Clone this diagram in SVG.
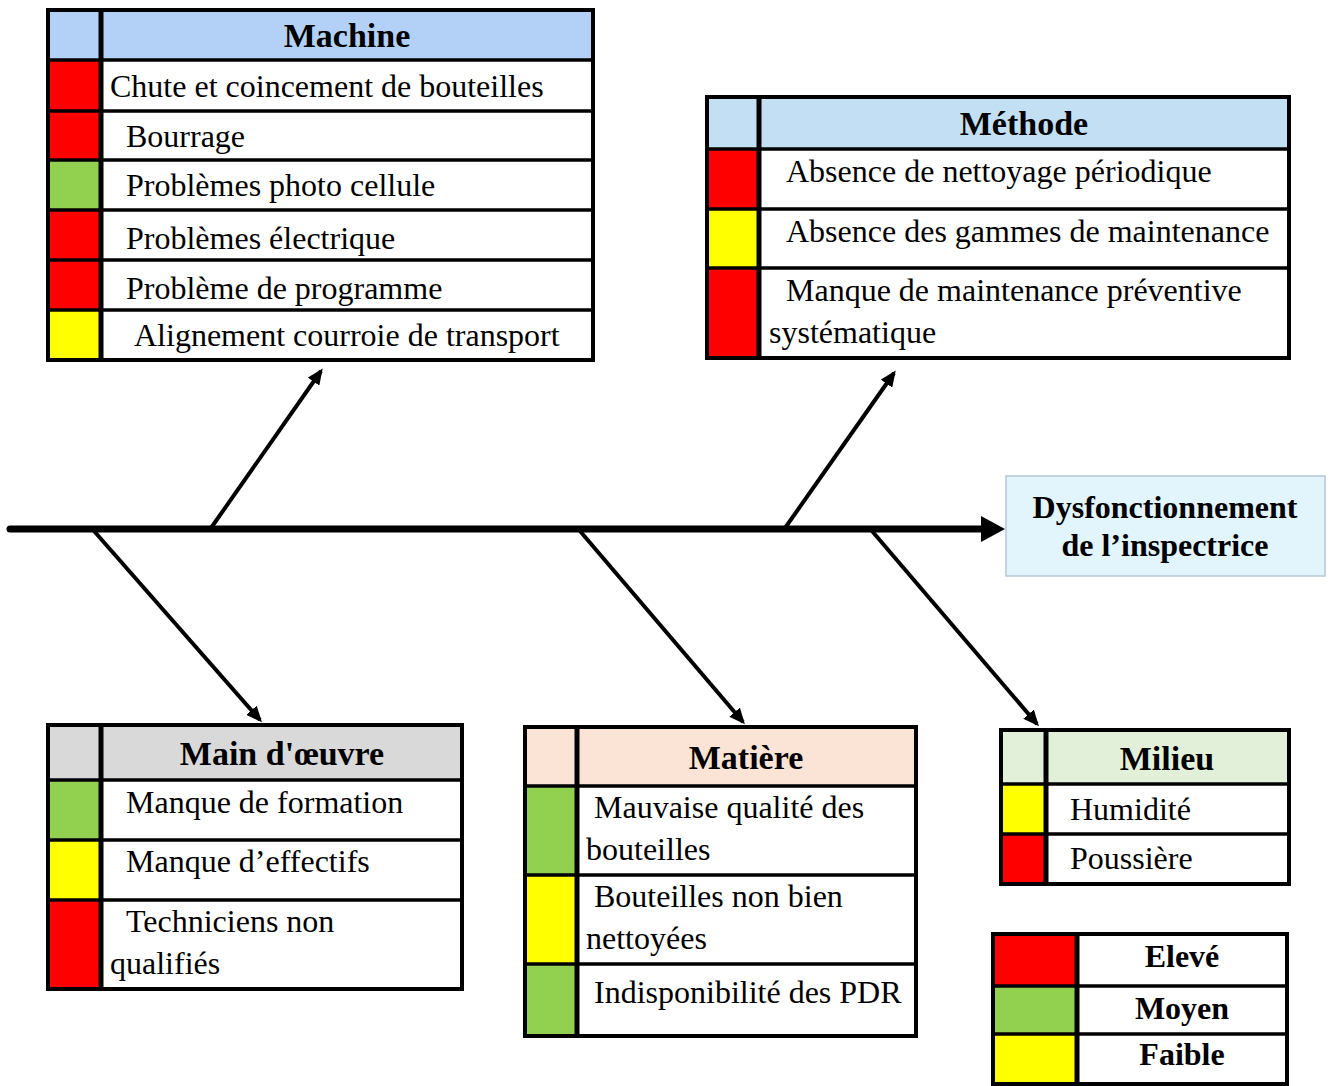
<svg xmlns="http://www.w3.org/2000/svg" width="1330" height="1086" viewBox="0 0 1330 1086">
<style>
.t{font-family:"Liberation Serif","Times New Roman",serif;font-size:32px;fill:#000}
.h{font-family:"Liberation Serif","Times New Roman",serif;font-size:34px;font-weight:bold;fill:#000;text-anchor:middle}
.b{font-family:"Liberation Serif","Times New Roman",serif;font-size:32px;font-weight:bold;fill:#000;text-anchor:middle}
.out{fill:#fff;stroke:#000;stroke-width:4}
.frame{fill:none;stroke:#000;stroke-width:4}
.vl{stroke:#000;stroke-width:5}
.hl{stroke:#000;stroke-width:3.5}
.r{fill:#ff0000}.g{fill:#92d050}.y{fill:#ffff00}
.br{stroke:#000;stroke-width:4;fill:none}
</style>
<defs>
<marker id="arr" markerUnits="userSpaceOnUse" viewBox="0 0 16 14" markerWidth="16" markerHeight="14" refX="13" refY="7" orient="auto">
<path d="M0,0 L16,7 L0,14 Z" fill="#000"/>
</marker>
<marker id="bigarr" markerUnits="userSpaceOnUse" viewBox="0 0 24 26" markerWidth="24" markerHeight="26" refX="2" refY="13" orient="auto">
<path d="M0,0 L24,13 L0,26 Z" fill="#000"/>
</marker>
</defs>

<g id="connectors">
<line x1="10" y1="529" x2="983" y2="529" stroke="#000" stroke-width="7" stroke-linecap="round" marker-end="url(#bigarr)"/>
<line class="br" x1="211" y1="528" x2="321" y2="371" marker-end="url(#arr)"/>
<line class="br" x1="785" y1="528" x2="894" y2="373" marker-end="url(#arr)"/>
<line class="br" x1="94" y1="531" x2="260" y2="720" marker-end="url(#arr)"/>
<line class="br" x1="580" y1="531" x2="743" y2="722" marker-end="url(#arr)"/>
<line class="br" x1="872" y1="531" x2="1037" y2="724" marker-end="url(#arr)"/>
</g>

<g id="machine">
<rect class="out" x="48" y="10" width="545" height="350"/>
<rect x="48" y="10" width="545" height="50" fill="#b3d1f6"/>
<rect class="r" x="48" y="60" width="53" height="51"/>
<rect class="r" x="48" y="111" width="53" height="49"/>
<rect class="g" x="48" y="160" width="53" height="50"/>
<rect class="r" x="48" y="210" width="53" height="50"/>
<rect class="r" x="48" y="260" width="53" height="50"/>
<rect class="y" x="48" y="310" width="53" height="50"/>
<line class="vl" x1="101" y1="10" x2="101" y2="360"/>
<line class="hl" x1="48" y1="60" x2="593" y2="60" stroke-width="4"/>
<line class="hl" x1="48" y1="111" x2="593" y2="111"/>
<line class="hl" x1="48" y1="160" x2="593" y2="160"/>
<line class="hl" x1="48" y1="210" x2="593" y2="210"/>
<line class="hl" x1="48" y1="260" x2="593" y2="260"/>
<line class="hl" x1="48" y1="310" x2="593" y2="310"/>
<rect class="frame" x="48" y="10" width="545" height="350"/>
<text class="h" x="347" y="47">Machine</text>
<text class="t" x="110" y="97">Chute et coincement de bouteilles</text>
<text class="t" x="126" y="147">Bourrage</text>
<text class="t" x="126" y="196">Problèmes photo cellule</text>
<text class="t" x="126" y="249">Problèmes électrique</text>
<text class="t" x="126" y="299">Problème de programme</text>
<text class="t" x="134" y="346">Alignement courroie de transport</text>
</g>

<g id="methode">
<rect class="out" x="707" y="97" width="582" height="261"/>
<rect x="707" y="97" width="582" height="52" fill="#c2dff4"/>
<rect class="r" x="707" y="149" width="52" height="60"/>
<rect class="y" x="707" y="209" width="52" height="59"/>
<rect class="r" x="707" y="268" width="52" height="90"/>
<line class="vl" x1="759" y1="97" x2="759" y2="358"/>
<line class="hl" x1="707" y1="149" x2="1289" y2="149" stroke-width="4"/>
<line class="hl" x1="707" y1="209" x2="1289" y2="209"/>
<line class="hl" x1="707" y1="268" x2="1289" y2="268"/>
<rect class="frame" x="707" y="97" width="582" height="261"/>
<text class="h" x="1024" y="135">Méthode</text>
<text class="t" x="786" y="182">Absence de nettoyage périodique</text>
<text class="t" x="786" y="242">Absence des gammes de maintenance</text>
<text class="t" x="786" y="301">Manque de maintenance préventive</text>
<text class="t" x="769" y="343">systématique</text>
</g>

<g id="main-oeuvre">
<rect class="out" x="48" y="725" width="414" height="264"/>
<rect x="48" y="725" width="414" height="55" fill="#d9d9d9"/>
<rect class="g" x="48" y="780" width="53" height="60"/>
<rect class="y" x="48" y="840" width="53" height="60"/>
<rect class="r" x="48" y="900" width="53" height="89"/>
<line class="vl" x1="101" y1="725" x2="101" y2="989"/>
<line class="hl" x1="48" y1="780" x2="462" y2="780" stroke-width="4"/>
<line class="hl" x1="48" y1="840" x2="462" y2="840"/>
<line class="hl" x1="48" y1="900" x2="462" y2="900"/>
<rect class="frame" x="48" y="725" width="414" height="264"/>
<text class="h" x="282" y="765">Main d'œuvre</text>
<text class="t" x="126" y="813">Manque de formation</text>
<text class="t" x="126" y="872">Manque d’effectifs</text>
<text class="t" x="126" y="932">Techniciens non</text>
<text class="t" x="110" y="974">qualifiés</text>
</g>

<g id="matiere">
<rect class="out" x="525" y="727" width="391" height="309"/>
<rect x="525" y="727" width="391" height="59" fill="#fbe4d5"/>
<rect class="g" x="525" y="786" width="52" height="89"/>
<rect class="y" x="525" y="875" width="52" height="89"/>
<rect class="g" x="525" y="964" width="52" height="72"/>
<line class="vl" x1="577" y1="727" x2="577" y2="1036"/>
<line class="hl" x1="525" y1="786" x2="916" y2="786" stroke-width="4"/>
<line class="hl" x1="525" y1="875" x2="916" y2="875"/>
<line class="hl" x1="525" y1="964" x2="916" y2="964"/>
<rect class="frame" x="525" y="727" width="391" height="309"/>
<text class="h" x="746" y="769">Matière</text>
<text class="t" x="594" y="818">Mauvaise qualité des</text>
<text class="t" x="586" y="860">bouteilles</text>
<text class="t" x="594" y="907">Bouteilles non bien</text>
<text class="t" x="586" y="949">nettoyées</text>
<text class="t" x="594" y="1003">Indisponibilité des PDR</text>
</g>

<g id="milieu">
<rect class="out" x="1001" y="730" width="288" height="154"/>
<rect x="1001" y="730" width="288" height="54" fill="#e2f0d9"/>
<rect class="y" x="1001" y="784" width="45" height="50"/>
<rect class="r" x="1001" y="834" width="45" height="50"/>
<line class="vl" x1="1046" y1="730" x2="1046" y2="884"/>
<line class="hl" x1="1001" y1="784" x2="1289" y2="784" stroke-width="4"/>
<line class="hl" x1="1001" y1="834" x2="1289" y2="834"/>
<rect class="frame" x="1001" y="730" width="288" height="154"/>
<text class="h" x="1167" y="770">Milieu</text>
<text class="t" x="1070" y="820">Humidité</text>
<text class="t" x="1070" y="869">Poussière</text>
</g>

<g id="legende">
<rect class="out" x="993" y="934" width="294" height="150"/>
<rect class="r" x="993" y="934" width="84" height="52"/>
<rect class="g" x="993" y="986" width="84" height="48"/>
<rect class="y" x="993" y="1034" width="84" height="50"/>
<line class="vl" x1="1077" y1="934" x2="1077" y2="1084"/>
<line class="hl" x1="993" y1="986" x2="1287" y2="986"/>
<line class="hl" x1="993" y1="1034" x2="1287" y2="1034"/>
<rect class="frame" x="993" y="934" width="294" height="150"/>
<text class="b" x="1182" y="967">Elevé</text>
<text class="b" x="1182" y="1019">Moyen</text>
<text class="b" x="1182" y="1065">Faible</text>
</g>

<g id="effet">
<rect x="1006" y="476" width="319" height="100" fill="#e2f4fc" stroke="#b4c8d8" stroke-width="1.5"/>
<text class="b" x="1165" y="518">Dysfonctionnement</text>
<text class="b" x="1165" y="556">de l’inspectrice</text>
</g>
</svg>
